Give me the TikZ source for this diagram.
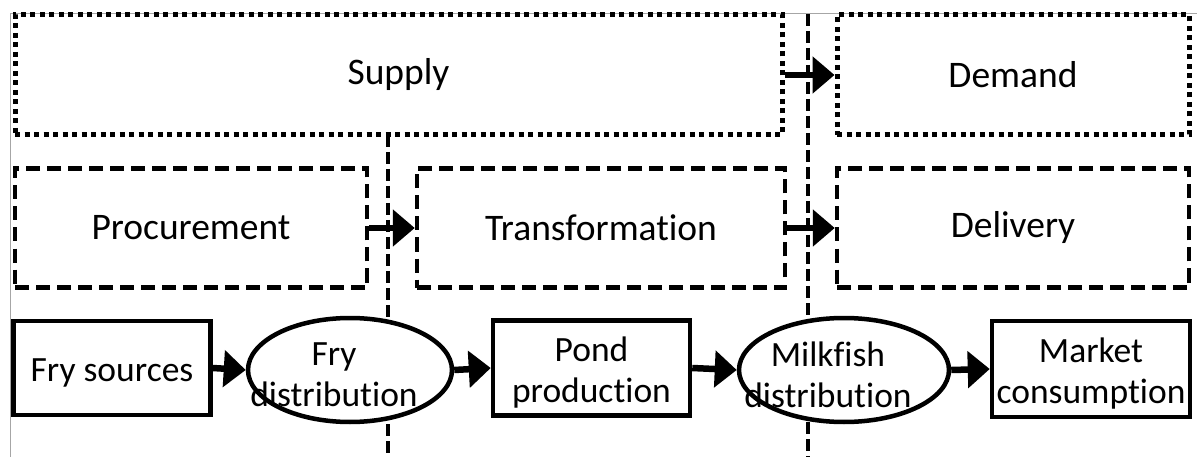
\documentclass[tikz,border=0pt]{standalone}
\usepackage{fontspec}
\setmainfont{Carlito}[Ligatures=NoCommon]
\usetikzlibrary{arrows.meta,shapes.geometric}
\begin{document}
\begin{tikzpicture}[x=1pt,y=-1pt,
  big/.style={font=\fontsize{37.5}{44}\selectfont},
  small/.style={font=\fontsize{35.5}{41}\selectfont, align=center, inner sep=0pt},
  dotbox/.style={draw, fill=white, line width=5pt, dash pattern=on 5pt off 4.5pt, inner sep=0pt, big},
  dashbox/.style={draw, fill=white, line width=4.5pt, dash pattern=on 14pt off 7pt, inner sep=0pt, big},
  solidbox/.style={draw, fill=white, line width=4.5pt, inner sep=0pt},
  oval/.style={draw, fill=white, ellipse, line width=4.5pt, inner sep=0pt},
  divider/.style={line width=3.5pt, dash pattern=on 12pt off 5pt},
  flow/.style={line width=6.5pt, -{Triangle[length=22pt 0 0,width=36pt 0 0]}},
  frame/.style={draw=gray!70, line width=1pt}
]
\useasboundingbox (0,0) rectangle (1197,457);
% frame
\coordinate (f1) at (10,457);
\coordinate (f2) at (10,14);
\coordinate (f3) at (1197,14);
\draw[frame] (f1) -- (f2) -- (f3);
% dividers
\coordinate (d1t) at (388,135);
\coordinate (d1b) at (388,457);
\coordinate (d2t) at (808,14);
\coordinate (d2b) at (808,457);
\draw[divider] (d1t) -- (d1b);
\draw[divider] (d2t) -- (d2b);
% row 1
\node[dotbox, minimum width=767pt, minimum height=120pt] (supply) at (398.5,75) {Supply};
\node[dotbox, minimum width=352pt, minimum height=120pt] (demand) at (1013,75) {Demand};
% row 2
\node[dashbox, minimum width=352pt, minimum height=119pt] (proc) at (191,228) {Procurement};
\node[dashbox, minimum width=368pt, minimum height=119pt] (trans) at (601,228) {Transformation};
\node[dashbox, minimum width=352pt, minimum height=119pt] (deliv) at (1013,228) {Delivery};
% row 3
\node[solidbox, minimum width=197pt, minimum height=94pt] (fry) at (112,368) {};
\node[small] (fryt) at ([yshift=-5pt]fry.center) {Fry sources};
\node[oval, minimum width=204pt, minimum height=104pt] (frydist) at (350,370) {};
\node[small] (frydistt) at ([xshift=-16pt,yshift=-5pt]frydist.center) {Fry\\distribution};
\node[solidbox, minimum width=197pt, minimum height=95pt] (pond) at (591.5,368) {};
\node[small] (pondt) at ([yshift=-5pt]pond.center) {Pond\\production};
\node[oval, minimum width=210pt, minimum height=104pt] (milk) at (844,370) {};
\node[small] (milkt) at ([xshift=-16pt,yshift=-5pt]milk.center) {Milkfish\\distribution};
\node[solidbox, minimum width=198pt, minimum height=96pt] (market) at (1091,369) {};
\node[small] (markett) at ([yshift=-5pt]market.center) {Market\\consumption};
% arrows
\draw[flow] (supply.east) -- (demand.west);
\draw[flow] (proc.east) -- (trans.west);
\draw[flow] (trans.east) -- (deliv.west);
\draw[flow] (fry.east) -- (frydist.west);
\draw[flow] (frydist.east) -- (pond.west);
\draw[flow] (pond.east) -- (milk.west);
\draw[flow] (milk.east) -- (market.west);
\end{tikzpicture}
\end{document}
